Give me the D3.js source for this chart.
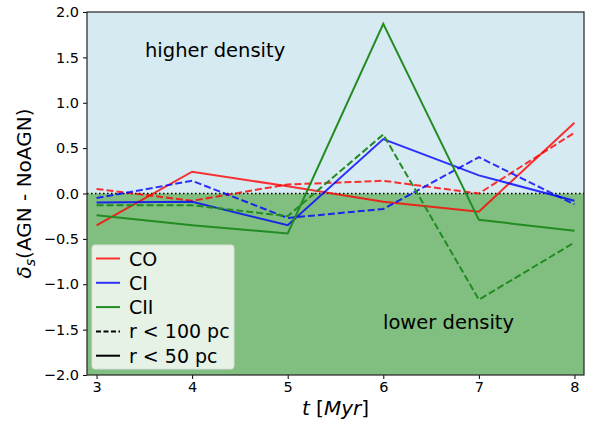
<!DOCTYPE html>
<html><head><meta charset="utf-8">
<script src="https://cdn.jsdelivr.net/npm/d3@7"></script>
<style>body{margin:0;background:#fff}</style>
</head><body>
<svg id="c" width="595" height="422"></svg>
<script>
const times = [3, 4, 5, 6, 7, 8];
const coSolid  = [-0.35, 0.24, 0.08, -0.09, -0.20, 0.78];
const coDash   = [0.05, -0.08, 0.10, 0.14, 0.00, 0.67];
const ciSolid  = [-0.10, -0.09, -0.35, 0.60, 0.20, -0.08];
const ciDash   = [-0.05, 0.14, -0.27, -0.17, 0.40, -0.12];
const ciiSolid = [-0.24, -0.35, -0.44, 1.87, -0.29, -0.41];
const ciiDash  = [-0.13, -0.13, -0.25, 0.65, -1.17, -0.54];
const xTicks = [3, 4, 5, 6, 7, 8];
const yTicks = [-2.0, -1.5, -1.0, -0.5, 0.0, 0.5, 1.0, 1.5, 2.0];
const species = ["CO", "CI", "CII"];

const colors = {CO: "rgba(255,0,0,0.8)", CI: "rgba(0,0,255,0.8)", CII: "#228b22"};
const series = [
  {name: "CO", vals: coDash, dash: true}, {name: "CO", vals: coSolid, dash: false},
  {name: "CI", vals: ciDash, dash: true}, {name: "CI", vals: ciSolid, dash: false},
  {name: "CII", vals: ciiDash, dash: true}, {name: "CII", vals: ciiSolid, dash: false}
];

const L = 87, R = 584, T = 12, B = 375;
const svg = d3.select("#c");
const x = d3.scaleLinear().domain([2.9, 8.1]).range([L, R]);
const y = d3.scaleLinear().domain([-2, 2]).range([B, T]);
const font = "DejaVu Sans, sans-serif";

svg.append("rect").attr("x", L).attr("y", T).attr("width", R - L).attr("height", y(0) - T).attr("fill", "#d6eaf1");
svg.append("rect").attr("x", L).attr("y", y(0)).attr("width", R - L).attr("height", B - y(0)).attr("fill", "#80bf80");

svg.append("line").attr("x1", L).attr("x2", R).attr("y1", y(0)).attr("y2", y(0))
  .attr("stroke", "#000").attr("stroke-width", 1.5).attr("stroke-dasharray", "1.5,2.5");

const line = d3.line().x((d, i) => x(times[i])).y(d => y(d));
svg.append("g").selectAll("path").data(series).join("path")
  .attr("d", d => line(d.vals)).attr("fill", "none")
  .attr("stroke", d => colors[d.name]).attr("stroke-width", 2)
  .attr("stroke-dasharray", d => d.dash ? "7,3" : null);

svg.append("text").attr("x", 145).attr("y", 57).attr("font-family", font).attr("font-size", 19.5).text("higher density");
svg.append("text").attr("x", 383).attr("y", 329).attr("font-family", font).attr("font-size", 19.5).text("lower density");

// axes
const xa = svg.append("g").attr("transform", `translate(0,${B})`)
  .call(d3.axisBottom(x).tickValues(xTicks).tickFormat(d3.format("d")).tickSize(4).tickPadding(3));
const ya = svg.append("g").attr("transform", `translate(${L},0)`)
  .call(d3.axisLeft(y).tickValues(yTicks).tickFormat(d => d3.format(".1f")(d).replace("-", "\u2212")).tickSize(4).tickPadding(4));
[xa, ya].forEach(a => {
  a.select(".domain").remove();
  a.selectAll("text").attr("font-family", font).attr("font-size", 14.5).attr("fill", "#000");
  a.selectAll("line").attr("stroke", "#000").attr("stroke-width", 1);
});
svg.append("rect").attr("x", L).attr("y", T).attr("width", R - L).attr("height", B - T)
  .attr("fill", "none").attr("stroke", "#222").attr("stroke-width", 1.2);

// axis labels
const yl = svg.append("text").attr("transform", `translate(31,${(T + B) / 2}) rotate(-90)`)
  .attr("text-anchor", "middle").attr("font-family", font).attr("font-size", 20);
yl.append("tspan").attr("font-style", "italic").text("δ");
yl.append("tspan").attr("font-style", "italic").attr("font-size", 14).attr("dy", 4).text("s");
yl.append("tspan").attr("dy", -4).text("(AGN - NoAGN)");

const xl = svg.append("text").attr("x", (L + R) / 2).attr("y", 415).attr("text-anchor", "middle")
  .attr("font-family", font).attr("font-size", 20);
xl.append("tspan").attr("font-style", "italic").text("t");
xl.append("tspan").text(" [");
xl.append("tspan").attr("font-style", "italic").text("Myr");
xl.append("tspan").text("]");

// legend
const lg = svg.append("g");
lg.append("rect").attr("x", 92).attr("y", 245).attr("width", 142).attr("height", 124).attr("rx", 3)
  .attr("fill", "rgba(255,255,255,0.8)").attr("stroke", "#ddd").attr("stroke-width", 1);
const entries = species.map(s => ({label: s, color: colors[s], dash: null}))
  .concat([{label: "r < 100 pc", color: "#000", dash: "5,2.5"}, {label: "r < 50 pc", color: "#000", dash: null}]);
entries.forEach((e, i) => {
  const yy = 258.5 + i * 24.3;
  lg.append("line").attr("x1", 96).attr("x2", 120).attr("y1", yy).attr("y2", yy)
    .attr("stroke", e.color).attr("stroke-width", 2).attr("stroke-dasharray", e.dash);
  lg.append("text").attr("x", 129).attr("y", yy + 7).attr("font-family", font).attr("font-size", 19).text(e.label);
});
</script>
</body></html>
